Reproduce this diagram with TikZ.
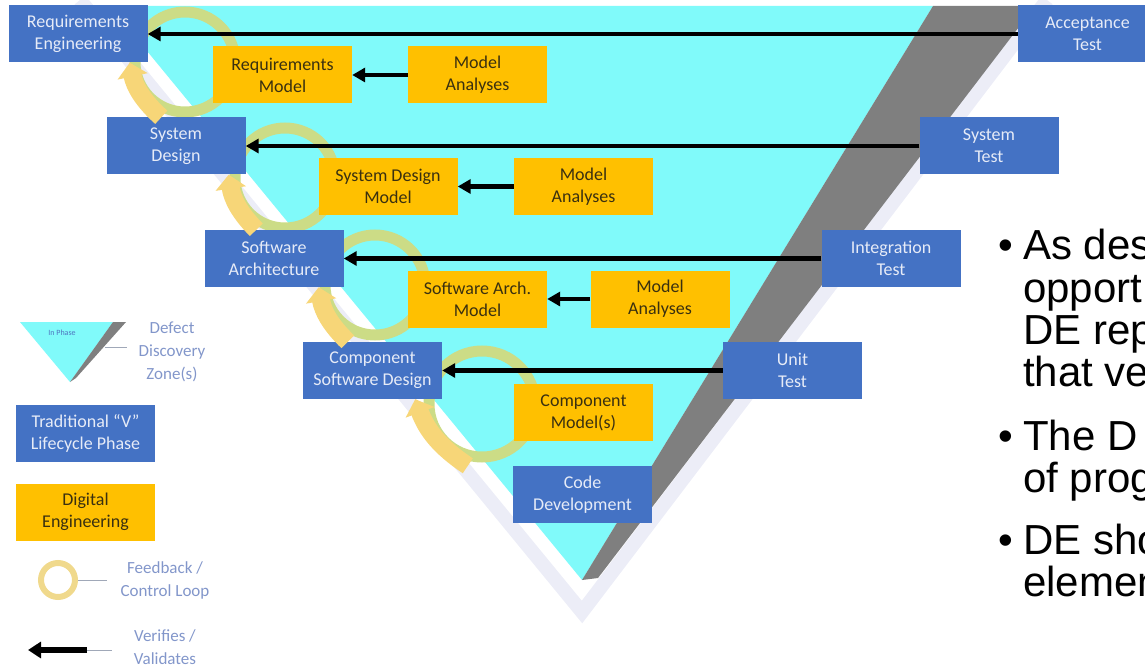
\documentclass[tikz,border=0pt]{standalone}
\usepackage{fontspec}
\setmainfont{Carlito}
\newfontfamily\arialfont{Liberation Sans}
\usetikzlibrary{arrows.meta,calc}
\definecolor{vcyan}{HTML}{80FAFA}
\definecolor{vgray}{HTML}{7F7F7F}
\definecolor{vblue}{HTML}{4472C4}
\definecolor{vorange}{HTML}{FFC000}
\definecolor{boxtxt}{HTML}{E6EBF7}
\definecolor{detxt}{HTML}{3A3010}
\definecolor{legtxt}{HTML}{8296CA}
\definecolor{ringgreen}{HTML}{CCDC86}
\definecolor{ringyellow}{HTML}{F7D678}
\definecolor{paleband}{HTML}{ECEDF7}
\definecolor{legline}{HTML}{A0A8B8}
\definecolor{legring}{HTML}{F0D98C}
\definecolor{inphase}{HTML}{4F74C0}
\tikzset{
  phase/.style={rectangle, fill=vblue, text=boxtxt, font=\fontsize{18}{22}\selectfont,
    align=center, inner sep=0pt, minimum width=139pt, minimum height=57pt},
  debox/.style={phase, fill=vorange, text=detxt},
  verif/.style={draw=black, line width=4.5pt, -{Triangle[length=13pt,width=14pt]}},
  ringloop/.style={draw=ringgreen, line width=11pt},
  yarr/.style={draw=ringyellow, line width=18pt, -{Triangle[length=14pt,width=30pt]}},
  legtext/.style={text=legtxt, font=\fontsize{17}{23}\selectfont, align=center, inner sep=0pt},
  btext/.style={font=\arialfont\fontsize{42}{42}\selectfont, anchor=base west, inner sep=0pt},
}
\begin{document}
\begin{tikzpicture}[x=1pt,y=-1pt]
\useasboundingbox (0,0) rectangle (1145,668);
\clip (0,0) rectangle (1145,668);
% pale V shadow
\draw[paleband, line width=14pt, line join=miter] (80,0) -- (582,612) -- (1047,0);
% defect discovery zones
\fill[vcyan] (110,6) -- (933,6) -- (582,580) -- cycle;
\fill[vgray] (933,6) -- (1035,6) -- (598,578) -- (582,580) -- cycle;
% feedback loops
\draw[ringloop] (185,62) circle (50);
\draw[ringloop] (285,178) circle (50);
\draw[ringloop] (375,285) circle (50);
\draw[ringloop] (482,404) circle (53);
% phases
\node[phase] (re) at (78,34) {Requirements\\Engineering};
\node[phase] (sd) at (176,146) {System\\Design};
\node[phase] (sa) at (274,258.5) {Software\\Architecture};
\node[phase] (csd) at (372.5,370.5) {Component\\Software Design};
\node[phase] (cd) at (582.5,494.5) {Code\\Development};
\node[phase] (at) at (1087.5,34) {Acceptance\\Test};
\node[phase] (st) at (989,146) {System\\Test};
\node[phase] (it) at (891,258.5) {Integration\\Test};
\node[phase] (ut) at (792.5,370.5) {Unit\\Test};
% digital engineering
\node[debox] (rm) at (282.5,75) {Requirements\\Model};
\node[debox] (ma1) at (477.5,75) {Model\\Analyses};
\node[debox] (sdm) at (388,186.5) {System Design\\Model};
\node[debox] (ma2) at (583.5,186.5) {Model\\Analyses};
\node[debox] (sam) at (477.5,299) {Software Arch.\\Model};
\node[debox] (ma3) at (660,299) {Model\\Analyses};
\node[debox] (cm) at (583.5,412.5) {Component\\Model(s)};
% feedback arrows
\draw[yarr] ($(sd.north west)+(55,0)$) to[bend left=18] ($(re.south east)+(-18,0)$);
\draw[yarr] ($(sa.north west)+(52,0)$) to[bend left=18] ($(sd.south east)+(-17,0)$);
\draw[yarr] ($(csd.north west)+(45,0)$) to[bend left=18] ($(sa.south east)+(-25,0)$);
\coordinate (cdfb) at ($(cd.north west)+(-45,0)$);
\draw[yarr] (cdfb) to[bend left=18] ($(csd.south east)+(-27,0)$);
% verification arrows
\draw[verif] (at.west) -- (re.east);
\draw[verif] (st.west) -- (sd.east);
\draw[verif] (it.west) -- (sa.east);
\draw[verif] (ut.west) -- (csd.east);
\draw[verif] (ma1.west) -- (rm.east);
\draw[verif] (ma2.west) -- (sdm.east);
\draw[verif] (ma3.west) -- (sam.east);
% legend
\fill[vcyan] (20,322) -- (113,322) -- (70,382) -- cycle;
\fill[vgray] (113,322) -- (126,322) -- (76,378) -- (70,382) -- cycle;
\node[text=inphase, font=\fontsize{8}{9}\selectfont, inner sep=0pt] (inph) at (62,333) {In Phase};
\coordinate (ddl1) at (105,347);
\coordinate (ddl2) at (127,347);
\draw[legline, line width=1pt] (ddl1) -- (ddl2);
\node[legtext] (ddz) at (172,352) {Defect\\Discovery\\Zone(s)};
\node[phase] (lgph) at (85.5,433.5) {Traditional “V”\\Lifecycle Phase};
\node[debox] (lgde) at (85.5,512) {Digital\\Engineering};
\draw[draw=legring, line width=6pt] (58,580) circle (17);
\coordinate (fbl1) at (78,580);
\coordinate (fbl2) at (107,580);
\draw[legline, line width=1pt] (fbl1) -- (fbl2);
\node[legtext] (fbt) at (165,580) {Feedback /\\Control Loop};
\coordinate (vt) at (87,650);
\coordinate (vh) at (28,650);
\coordinate (vl) at (112,650);
\draw[legline, line width=1pt] (vt) -- (vl);
\draw[verif, line width=6pt, -{Triangle[length=13pt,width=16pt]}] (vt) -- (vh);
\node[legtext] (vtx) at (165,647) {Verifies /\\Validates};
% bullet text
\node[btext] (b1) at (998,260) {•};
\node[btext] (l1) at (1023,260) {As des};
\node[btext] (l2) at (1023,302) {opport};
\node[btext] (l3) at (1023,344) {DE rep};
\node[btext] (l4) at (1023,386) {that ve};
\node[btext] (b2) at (998,450) {•};
\node[btext] (l5) at (1023,450) {The D};
\node[btext] (l6) at (1023,492) {of prog};
\node[btext] (b3) at (998,554) {•};
\node[btext] (l7) at (1023,554) {DE sho};
\node[btext] (l8) at (1023,596) {elemen};
\end{tikzpicture}
\end{document}
